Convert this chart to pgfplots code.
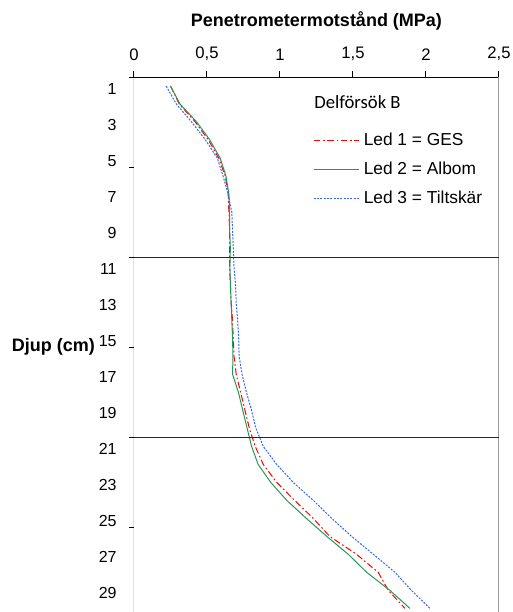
\documentclass[border=0pt]{standalone}
\usepackage{pgfplots}
\pgfplotsset{compat=1.18}
\usepackage{pgfplotstable}
\usepackage{fontspec}
\setmainfont{Liberation Sans}
\newfontfamily\carlito{Carlito}
\definecolor{ledred}{RGB}{255,0,0}
\definecolor{ledgreen}{RGB}{40,150,90}
\definecolor{ledblue}{RGB}{51,102,255}

\pgfplotstableread{
depth led1 led2 led3
1 0.25 0.25 0.22
2 0.31 0.315 0.29
3 0.42 0.43 0.395
4 0.51 0.52 0.49
5 0.58 0.59 0.57
6 0.625 0.63 0.61
7 0.645 0.65 0.645
8 0.65 0.655 0.67
9 0.655 0.655 0.675
10 0.655 0.66 0.68
11 0.655 0.657 0.685
12 0.66 0.66 0.695
13 0.665 0.665 0.70
14 0.675 0.67 0.71
15 0.68 0.675 0.717
16 0.685 0.678 0.72
17 0.70 0.675 0.74
18 0.73 0.715 0.77
19 0.76 0.745 0.805
20 0.79 0.775 0.835
21 0.83 0.805 0.885
22 0.885 0.85 0.977
23 0.977 0.936 1.09
24 1.10 1.046 1.228
25 1.228 1.18 1.354
26 1.34 1.32 1.49
27 1.525 1.468 1.64
28 1.673 1.594 1.788
29 1.742 1.753 1.90
30 1.856 1.89 2.027
}\datatable

\begin{document}
\begin{tikzpicture}
\begin{axis}[
  at={(0,0)}, anchor=south west,
  scale only axis,
  width=273.75pt, height=401.25pt,
  xmin=0, xmax=2.5,
  ymin=0.5, ymax=30.2,
  y dir=reverse,
  axis line style={draw=none},
  xtick={0,0.5,1,1.5,2,2.5},
  xticklabels={0,{0,5},1,{1,5},2,{2,5}},
  xtick pos=right, xticklabel pos=right,
  ytick={1,3,...,29},
  yticklabels={1,3,5,7,9,11,13,15,17,19,21,23,25,27,29},
  minor ytick={0.5,5.5,10.5,15.5,20.5,25.5},
  ytick pos=left,
  tick align=outside,
  major x tick style={black, line width=0.75pt},
  major y tick style={draw=none},
  minor y tick style={black, line width=0.75pt},
  major tick length=4.5pt,
  minor tick length=3.75pt,
  /pgf/number format/assume math mode=true,
  xticklabel style={font=\fontsize{12.5pt}{14pt}\selectfont, yshift=4pt},
  yticklabel style={font=\fontsize{12pt}{14pt}\selectfont, yshift=-2.25pt, xshift=-5pt},
  title={\textbf{Penetrometermotstånd (MPa)}},
  title style={font=\fontsize{13.5pt}{16pt}\selectfont, at={(axis description cs:0.5,1)}, anchor=center, yshift=36pt},
  ylabel={\textbf{Djup (cm)}},
  every axis y label/.style={at={(axis description cs:-0.221,0.495)}, anchor=center, font=\fontsize{13.5pt}{16pt}\selectfont},
  legend image code/.code={\draw[#1] (0pt,0pt) -- (33.75pt,0pt);},
  legend style={draw=none, fill=none, at={(axis description cs:0.49,0.899)}, anchor=north west,
    font=\fontsize{13pt}{15pt}\selectfont, row sep=7.75pt, inner sep=0pt,
    nodes={inner sep=1pt, text height=9.5pt, text depth=2.5pt},
    /tikz/every odd column/.append style={column sep=2.5pt}},
  legend cell align=left,
]
\addplot[ledred, line width=0.75pt, dash pattern=on 5pt off 2pt on 1.2pt off 2pt] table[x=led1, y=depth] {\datatable};
\addlegendentry{Led 1 = GES}
\addplot[ledgreen, line width=0.75pt] table[x=led2, y=depth] {\datatable};
\addlegendentry{Led 2 = Albom}
\addplot[ledblue, line width=0.75pt, dash pattern=on 1.5pt off 1pt] table[x=led3, y=depth] {\datatable};
\addlegendentry{Led 3 = Tiltskär}
% frame and reference lines
\draw[black, line width=0.75pt] (axis cs:0,0.5) -- (axis cs:2.5,0.5);
\draw[black, line width=0.75pt] (axis cs:0,0.5) -- (axis cs:0,30.2);
\draw[gray!80, line width=0.75pt] (axis cs:2.5,0.5) -- (axis cs:2.5,30.2);
\draw[black!85, line width=0.9pt] (axis cs:0,10.5) -- (axis cs:2.5,10.5);
\draw[black!85, line width=0.9pt] (axis cs:0,20.5) -- (axis cs:2.5,20.5);
\node[anchor=west, font=\carlito\fontsize{14pt}{16pt}\selectfont, inner sep=0pt] at (axis cs:1.233,1.889) {Delförsök B};
\end{axis}
\pgfresetboundingbox
\path (-100.5pt,0pt) rectangle (283.5pt,459pt);
\end{tikzpicture}
\end{document}
